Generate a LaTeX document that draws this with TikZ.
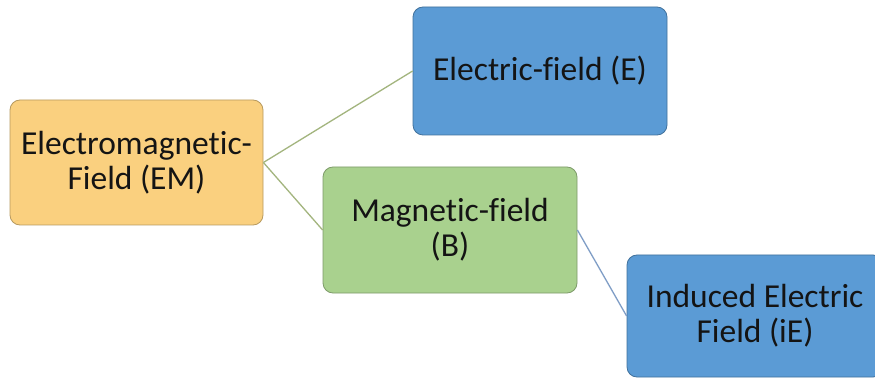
\documentclass[tikz,border=0pt]{standalone}
\usepackage{fontspec}
\setmainfont{Carlito}[Ligatures={NoCommon}]
\definecolor{orfill}{HTML}{FAD07F}
\definecolor{ordraw}{HTML}{B89A5E}
\definecolor{blfill}{HTML}{5B9BD5}
\definecolor{bldraw}{HTML}{41719C}
\definecolor{grfill}{HTML}{A9D18E}
\definecolor{grdraw}{HTML}{7E9B6A}
\definecolor{lngreen}{HTML}{A3B57E}
\definecolor{lnblue}{HTML}{7F9DC6}
\tikzset{
  box/.style={rounded corners=10pt, line width=0.8pt, inner sep=0pt, align=center,
    font=\fontsize{33.5}{35}\selectfont, text=black!92},
  obox/.style={box, fill=orfill, draw=ordraw},
  bbox/.style={box, fill=blfill, draw=bldraw},
  gbox/.style={box, fill=grfill, draw=grdraw},
  glink/.style={draw=lngreen, line width=1.3pt},
  blink/.style={draw=lnblue, line width=1.3pt}
}
\begin{document}
\begin{tikzpicture}[x=1pt,y=1pt]
\clip (0,0) rectangle (875,-379);
\fill[white] (0,0) rectangle (875,-379);
\node[obox, minimum width=253pt, minimum height=125pt] (em) at (136.5,-162.5) {Electromagnetic-\\Field (EM)};
\node[bbox, minimum width=254pt, minimum height=128pt] (e) at (540,-71) {Electric-field (E)};
\node[gbox, minimum width=254pt, minimum height=126pt] (b) at (450,-230) {Magnetic-field\\(B)};
\node[bbox, minimum width=256pt, minimum height=122pt] (ie) at (755,-316) {Induced Electric\\Field (iE)};
\draw[glink] (em.east) -- (e.west);
\draw[glink] (em.east) -- (b.west);
\draw[blink] (b.east) -- (ie.west);
\end{tikzpicture}
\end{document}
